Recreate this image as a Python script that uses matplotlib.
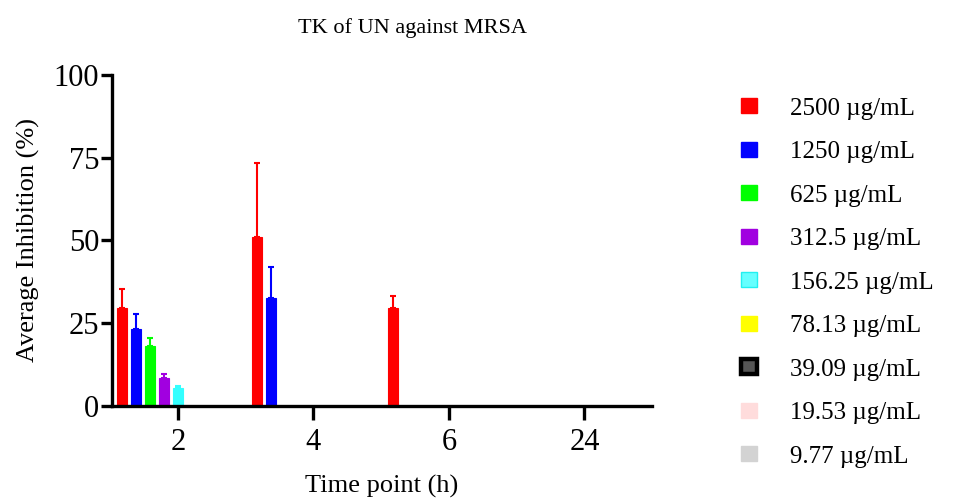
import matplotlib
matplotlib.use('Agg')
import matplotlib.pyplot as plt
from matplotlib.patches import Patch
import numpy as np

plt.rcParams['font.family'] = ['Liberation Serif', 'DejaVu Serif']

timepoints = ['2', '4', '6', '24']
series = ['2500 µg/mL', '1250 µg/mL', '625 µg/mL', '312.5 µg/mL', '156.25 µg/mL',
          '78.13 µg/mL', '39.09 µg/mL', '19.53 µg/mL', '9.77 µg/mL']
colors = ['#ff0000', '#0000ff', '#00ff00', '#a100e0', '#33ffff',
          '#ffff00', '#000000', '#ffdcdc', '#d3d3d3']
means = [
    [29.6, 51.2, 29.7, 0],
    [23.3, 32.7, 0, 0],
    [18.0, 0, 0, 0],
    [8.4, 0, 0, 0],
    [5.3, 0, 0, 0],
    [0, 0, 0, 0],
    [0, 0, 0, 0],
    [0, 0, 0, 0],
    [0, 0, 0, 0],
]
errs = [
    [5.7, 22.3, 3.5, 0],
    [4.4, 9.4, 0, 0],
    [2.6, 0, 0, 0],
    [1.2, 0, 0, 0],
    [0.6, 0, 0, 0],
    [0, 0, 0, 0],
    [0, 0, 0, 0],
    [0, 0, 0, 0],
    [0, 0, 0, 0],
]

fig = plt.figure(figsize=(9.55, 5.01), dpi=100)
ax = fig.add_axes([0.117, 0.19, 0.566, 0.66])

x = np.arange(len(timepoints))
slot = 0.103
w = 0.074
for i, (name, c) in enumerate(zip(series, colors)):
    pos = x + (i - 4) * slot
    m = np.array(means[i])
    e = np.array(errs[i])
    has = m > 0
    ax.bar(pos[has], m[has], width=w, color=c, edgecolor=c, linewidth=0.8)
    if e.any():
        ax.errorbar(pos[has], m[has], yerr=[np.zeros(has.sum()), e[has]], fmt='none',
                    ecolor=c, elinewidth=1.5, capsize=2.5, capthick=1.5)

ax.set_xlim(-0.487, 3.5)
ax.set_ylim(0, 100)
ax.set_yticks([0, 25, 50, 75, 100])
ax.set_xticks(x)
ax.set_xticklabels(timepoints)
ax.spines['top'].set_visible(False)
ax.spines['right'].set_visible(False)
for s in ['left', 'bottom']:
    ax.spines[s].set_linewidth(2.4)
ax.tick_params(axis='y', width=2.4, length=8, labelsize=22, direction='out', pad=1)
ax.tick_params(axis='x', width=2.4, length=10, labelsize=22, direction='out', pad=6)
ax.set_ylabel('Average Inhibition (%)', fontsize=19, labelpad=10)
ax.set_xlabel('Time point (h)', fontsize=19, labelpad=13)
ax.set_title('TK of UN against MRSA', fontsize=16, pad=30, x=0.556)

handles = []
for name, c in zip(series, colors):
    if c == '#000000':
        handles.append(Patch(facecolor='#555555', edgecolor='#000000', linewidth=3.2))
    elif c == '#33ffff':
        handles.append(Patch(facecolor='#66ffff', edgecolor='#22f0f0', linewidth=1.0))
    else:
        handles.append(Patch(facecolor=c, edgecolor=c, linewidth=1.0))
fig.legend(handles, series, loc='upper left', bbox_to_anchor=(0.752, 0.85),
           frameon=False, fontsize=18, handlelength=0.66, handleheight=0.55,
           handletextpad=1.3, labelspacing=0.86)

fig.savefig('out.png', dpi=100)
